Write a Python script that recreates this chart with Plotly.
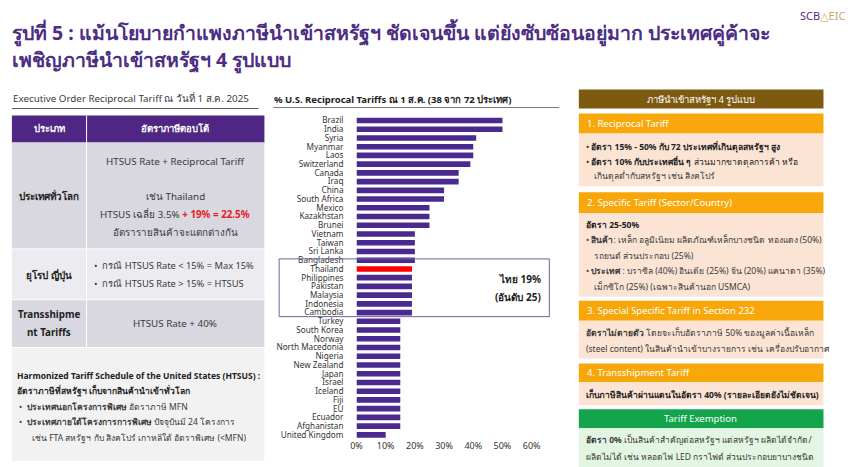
import plotly.graph_objects as go

W, H = 860, 467

countries = ["Brazil", "India", "Syria", "Myanmar", "Laos", "Switzerland", "Canada", "Iraq",
             "China", "South Africa", "Mexico", "Kazakhstan", "Brunei", "Vietnam", "Taiwan",
             "Sri Lanka", "Bangladesh", "Thailand", "Philippines", "Pakistan", "Malaysia",
             "Indonesia", "Cambodia", "Turkey", "South Korea", "Norway", "North Macedonia",
             "Nigeria", "New Zealand", "Japan", "Israel", "Iceland", "Fiji", "EU", "Ecuador",
             "Afghanistan", "United Kingdom"]
tariffs = [50, 50, 41, 40, 40, 39, 35, 35, 30, 30, 25, 25, 25, 20, 20, 20, 20, 19, 19, 19, 19,
           19, 19, 15, 15, 15, 15, 15, 15, 15, 15, 15, 15, 15, 15, 15, 10]
highlight = "Thailand"
x_ticks = [0, 10, 20, 30, 40, 50, 60]
x_tick_labels = ["0%", "10%", "20%", "30%", "40%", "50%", "60%"]

PURPLE = "#4B2A8F"
RED = "#FF0000"
TITLE_C = "#4B2D83"
TXT = "#3A3A3A"
FONT = "Noto Sans, DejaVu Sans, sans-serif"

bar_colors = [RED if c == highlight else PURPLE for c in countries]

fig = go.Figure()
fig.add_trace(go.Bar(
    x=tariffs, y=countries, orientation="h", marker=dict(color=bar_colors, line=dict(width=0)),
    hoverinfo="x+y", showlegend=False))


def X(px):
    return px / W


def Y(py):
    return 1 - py / H


shapes = []
annos = []


def rect(x0, y0, x1, y1, fill, line=None, lw=0):
    shapes.append(dict(type="rect", xref="paper", yref="paper", x0=X(x0), x1=X(x1),
                       y0=Y(y1), y1=Y(y0), fillcolor=fill,
                       line=dict(color=line or fill, width=lw), layer="below"))


def hline(x0, x1, y, color, w=1):
    shapes.append(dict(type="line", xref="paper", yref="paper", x0=X(x0), x1=X(x1),
                       y0=Y(y), y1=Y(y), line=dict(color=color, width=w)))


def text(x, y, s, size=9.5, color=TXT, bold=False, anchor="left"):
    if bold:
        s = "<b>" + s + "</b>"
    annos.append(dict(xref="paper", yref="paper", x=X(x), y=Y(y), text=s, showarrow=False,
                      xanchor=anchor, yanchor="middle", font=dict(size=size, color=color, family=FONT)))


# ---- Title ----
text(4, 31, "รูปที่ 5 : แม้นโยบายกำแพงภาษีนำเข้าสหรัฐฯ ชัดเจนขึ้น แต่ยังซับซ้อนอยู่มาก ประเทศคู่ค้าจะ",
     size=19.5, color=TITLE_C, bold=True)
text(4, 58, "เพชิญภาษีนำเข้าสหรัฐฯ 4 รูปแบบ", size=19.5, color=TITLE_C, bold=True)
annos.append(dict(xref="paper", yref="paper", x=X(856), y=Y(14), showarrow=False, xanchor="right",
                  yanchor="middle", text="<span style='color:#4F2D7F'>SCB</span><span style='color:#C9A66B'>△EIC</span>",
                  font=dict(size=11, family=FONT)))

# ---- Left table ----
text(5, 97, "Executive Order Reciprocal Tariff ณ วันที่ 1 ส.ค. 2025", size=9.8, color=TXT)
hline(6, 257, 107, "#555555", 1)
rect(6, 114, 263, 141, "#4F2683")
text(44, 127.5, "ประเภท", size=9.5, color="white", bold=True, anchor="center")
text(172, 127.5, "อัตราภาษีตอบโต้", size=9.5, color="white", bold=True, anchor="center")
rect(6, 141, 263, 248, "#D9D7DF")
rect(6, 248, 263, 299, "#ECEBF0")
rect(6, 299, 263, 347, "#D9D7DF")
rect(6, 347, 263, 461, "#F2F2F2")
shapes.append(dict(type="line", xref="paper", yref="paper", x0=X(82), x1=X(82), y0=Y(347), y1=Y(114),
                   line=dict(color="white", width=1)))
hline(6, 263, 248, "white", 1)
hline(6, 263, 299, "white", 1)
hline(6, 263, 347, "white", 1)

text(44, 195, "ประเทศทั่วโลก", size=9.8, color="#222222", bold=True, anchor="center")
text(172, 160, "HTSUS Rate + Reciprocal Tariff", size=9.8, anchor="center")
text(172, 195, "เช่น Thailand", size=9.8, anchor="center")
text(172, 213, "HTSUS เฉลี่ย 3.5% <span style='color:#E8202A'><b>+ 19% = 22.5%</b></span>", size=9.8,
     anchor="center")
text(172, 231, "อัตรารายสินค้าจะแตกต่างกัน", size=9.8, anchor="center")

text(44, 274, "ยุโรป ญี่ปุ่น", size=9.8, color="#222222", bold=True, anchor="center")
text(88, 265, "•  กรณี HTSUS Rate < 15% = Max 15%", size=9.3)
text(88, 283, "•  กรณี HTSUS Rate > 15% = HTSUS", size=9.3)

text(44, 314, "Transshipme", size=9.8, color="#222222", bold=True, anchor="center")
text(44, 332, "nt Tariffs", size=9.8, color="#222222", bold=True, anchor="center")
text(172, 323, "HTSUS Rate + 40%", size=9.8, anchor="center")

text(9, 375, "Harmonized Tariff Schedule of the United States (HTSUS) :", size=8.5, color="#222222", bold=True)
text(9, 390, "อัตราภาษีที่สหรัฐฯ เก็บจากสินค้านำเข้าทั่วโลก", size=8.5, color="#222222", bold=True)
text(11, 406, "•  <b>ประเทศนอกโครงการพิเศษ</b> อัตราภาษี MFN", size=8.5)
text(11, 422, "•  <b>ประเทศภายใต้โครงการการพิเศษ</b> ปัจจุบันมี 24 โครงการ", size=8.5)
text(24, 438, "เช่น FTA สหรัฐฯ กับ สิงคโปร์ เกาหลีใต้ อัตราพิเศษ (<MFN)", size=8.5)

# ---- Chart ----
text(271, 98, "% U.S. Reciprocal Tariffs ณ 1 ส.ค. (38 จาก 72 ประเทศ)", size=9.5, color="#222222", bold=True)
hline(272, 563, 106, "#777777", 1)
shapes.append(dict(type="rect", xref="paper", yref="paper", x0=X(278), x1=X(553), y0=Y(316), y1=Y(258),
                   line=dict(color="#6F62A0", width=1), fillcolor="rgba(0,0,0,0)", layer="above"))
text(547, 278, "ไทย 19%", size=10, color="#222222", bold=True, anchor="right")
text(547, 296, "(อันดับ 25)", size=10, color="#222222", bold=True, anchor="right")

# ---- Right panel ----
rect(583, 88, 832, 107, "#7D5A10")
text(707, 97.5, "ภาษีนำเข้าสหรัฐฯ 4 รูปแบบ", size=9.5, color="white", anchor="center")
ORANGE = "#F7A70A"
PEACH = "#FCE4D4"
rect(583, 112, 832, 132, ORANGE)
text(589, 122, "1. Reciprocal Tariff", size=9.5, color="white")
rect(583, 132, 832, 185, PEACH)
text(588, 145, "• <b>อัตรา 15% - 50% กับ 72 ประเทศที่เกินดุลสหรัฐฯ สูง</b>", size=8.5, color="#222222")
text(588, 160, "• <b>อัตรา 10% กับประเทศอื่น ๆ</b> ส่วนมากขาดดุลการค้า หรือ", size=8.5, color="#222222")
text(596, 175, "เกินดุลต่ำกับสหรัฐฯ เช่น สิงคโปร์", size=8.5)

rect(583, 191, 832, 212, ORANGE)
text(589, 201.5, "2. Specific Tariff (Sector/Country)", size=9.5, color="white")
rect(583, 212, 832, 296, PEACH)
text(588, 223, "<b>อัตรา 25-50%</b>", size=8.5, color="#222222")
text(588, 239, "• <b>สินค้า</b>: เหล็ก อลูมิเนียม ผลิตภัณฑ์เหล็กบางชนิด ทองแดง (50%)", size=8.5)
text(596, 255, "รถยนต์ ส่วนประกอบ (25%)", size=8.5)
text(588, 270, "• <b>ประเทศ</b> : บราซิล (40%) อินเดีย (25%) จีน (20%) แคนาดา (35%)", size=8.5)
text(596, 286, "เม็กซิโก (25%) (เฉพาะสินค้านอก USMCA)", size=8.5)

rect(583, 300, 832, 320, ORANGE)
text(589, 310, "3. Special Specific Tariff in Section 232", size=9.5, color="white")
rect(583, 320, 832, 358, PEACH)
text(588, 332, "<b>อัตราไม่ตายตัว</b> โดยจะเก็บอัตราภาษี 50% ของมูลค่าเนื้อเหล็ก", size=8.5)
text(588, 348, "(steel content) ในสินค้านำเข้าบางรายการ เช่น เครื่องปรับอากาศ", size=8.5)

rect(583, 363, 832, 382, ORANGE)
text(589, 372.5, "4. Transshipment Tariff", size=9.5, color="white")
rect(583, 382, 832, 405, PEACH)
text(588, 394, "<b>เก็บภาษีสินค้าผ่านแดนในอัตรา 40% (รายละเอียดยังไม่ชัดเจน)</b>", size=8.5, color="#222222")

rect(583, 409, 832, 428, "#14A44B")
text(707, 418.5, "Tariff Exemption", size=9.5, color="white", anchor="center")
rect(583, 428, 832, 467, "#E3F6E3")
text(588, 440, "<b>อัตรา 0%</b> เป็นสินค้าสำคัญต่อสหรัฐฯ แต่สหรัฐฯ ผลิตได้จำกัด/", size=8.5)
text(588, 456, "ผลิตไม่ได้ เช่น หลอดไฟ LED กราไฟต์ ส่วนประกอบยาบางชนิด", size=8.5)

n = len(countries)
step = (434.7 - 119) / (n - 1)
y_top = 119 - step / 2
y_bot = 434.7 + step / 2

fig.update_layout(
    width=W, height=H, margin=dict(l=0, r=0, t=0, b=0),
    paper_bgcolor="white", plot_bgcolor="rgba(0,0,0,0)",
    bargap=0.36, shapes=shapes, annotations=annos,
    font=dict(family=FONT, color=TXT),
    xaxis=dict(domain=[X(356.7), X(535)], range=[0, 60], tickvals=x_ticks, ticktext=x_tick_labels,
               showgrid=False, zeroline=False, showline=False, ticks="",
               tickfont=dict(size=9, color="#333333"), fixedrange=True),
    yaxis=dict(domain=[Y(y_bot), Y(y_top)], categoryorder="array", categoryarray=countries,
               tickmode="array", tickvals=countries, ticktext=countries,
               range=[n - 0.5, -0.5], showgrid=False, zeroline=False, showline=False, ticks="",
               ticklabelstandoff=12, tickfont=dict(size=8.2, color="#333333"), fixedrange=True),
)

fig.write_html("out.html", config={"displayModeBar": False},
               post_script="document.body.style.margin='0';document.body.style.overflow='hidden';")
